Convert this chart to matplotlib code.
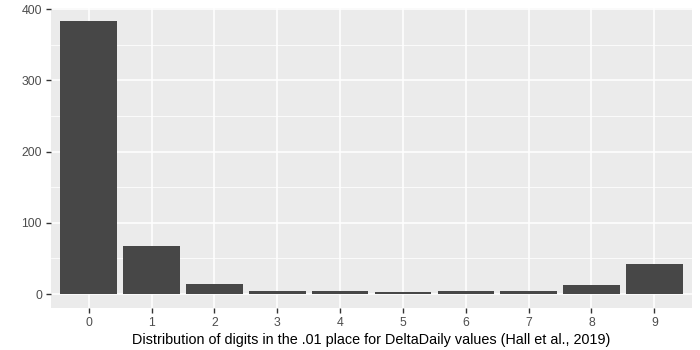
"""Bar chart of digit counts in the .01 place, ggplot-like styling."""

import matplotlib

matplotlib.use("Agg")

import matplotlib.pyplot as plt
import numpy as np

DIGITS = ["0", "1", "2", "3", "4", "5", "6", "7", "8", "9"]
COUNTS = [383, 67, 14, 4, 4, 3, 4, 4, 13, 42]
Y_TICKS = [0, 100, 200, 300, 400]
X_LABEL = "Distribution of digits in the .01 place for DeltaDaily values (Hall et al., 2019)"

PANEL_BG = "#EBEBEB"
BAR_COLOR = "#474747"
TICK_TEXT = "#4D4D4D"
TICK_LINE = "#333333"

plt.rcParams["font.family"] = ["Liberation Sans", "DejaVu Sans"]

fig = plt.figure(figsize=(7, 3.5), dpi=100)
ax = fig.add_axes([0.0729, 0.121, 0.9157, 0.857])

x = np.arange(len(DIGITS))
ax.bar(x, COUNTS, width=0.9, color=BAR_COLOR, zorder=3)

top = max(COUNTS)
pad = top * 0.05
ax.set_ylim(-pad, top + pad)
ax.set_xlim(-0.6, len(DIGITS) - 0.4)

ax.set_facecolor(PANEL_BG)
for spine in ax.spines.values():
    spine.set_visible(False)

ax.set_xticks(x, DIGITS)
ax.set_yticks(Y_TICKS)
ax.set_yticks([50, 150, 250, 350], minor=True)
ax.grid(which="major", color="white", linewidth=1.1, zorder=0)
ax.grid(which="minor", axis="y", color="white", linewidth=0.55, zorder=0)
ax.set_axisbelow(True)

ax.tick_params(axis="both", which="major", length=3.5, width=1.0,
               color=TICK_LINE, labelcolor=TICK_TEXT, labelsize=8.8, pad=3)
ax.tick_params(axis="both", which="minor", length=0)

ax.set_xlabel(X_LABEL, fontsize=10.4, color="black", labelpad=3)

fig.savefig("out.png", dpi=100)
